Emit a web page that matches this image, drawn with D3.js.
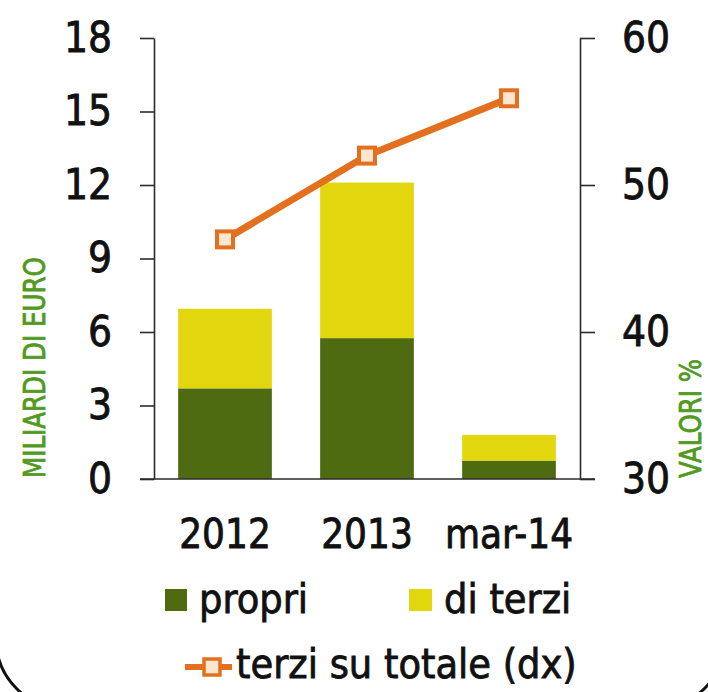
<!DOCTYPE html>
<html>
<head>
<meta charset="utf-8">
<script src="https://cdn.jsdelivr.net/npm/d3@7"></script>
<style>
  body { margin: 0; background: #fff; }
  svg text { font-family: "Liberation Sans Narrow", "DejaVu Sans Condensed", "Open Sans", sans-serif; }
</style>
</head>
<body>
<div id="chart"></div>
<script>
// data
var periods = [ "2012", "2013", "mar-14" ];
var propri = [ 3.7, 5.75, 0.75 ];
var diTerzi = [ 3.25, 6.35, 1.05 ];
var terziSuTotale = [ 46.3, 52.0, 55.9 ];
var leftTicks = [ 0, 3, 6, 9, 12, 15, 18 ];
var rightTicks = [ 30, 40, 50, 60 ];

var colors = {
  propri: "#4e6b12",
  terzi: "#e2d70f",
  line: "#e2701f",
  marker: "#fbe6cf",
  axisTitle: "#4f9a1f",
  axis: "#2b2b2b",
  text: "#111"
};

var width = 708, height = 692;
var x0 = 154, x1 = 580, yTop = 38, yBase = 479;

var svg = d3.select( "#chart" ).append( "svg" )
  .attr( "width", width )
  .attr( "height", height );

var x = d3.scaleBand()
  .domain( periods )
  .range( [ x0, x1 ] )
  .paddingInner( 0.34 )
  .paddingOuter( 0.17 );

var y = d3.scaleLinear().domain( [ 0, 18 ] ).range( [ yBase, yTop ] );
var yRight = d3.scaleLinear().domain( [ 30, 60 ] ).range( [ yBase, yTop ] );

// stacked bars
var rows = periods.map( function ( p, i ) {
  return { period: p, propri: propri[ i ], terzi: diTerzi[ i ] };
} );
var stack = d3.stack().keys( [ "propri", "terzi" ] )( rows );

svg.append( "g" )
  .selectAll( "g" )
  .data( stack )
  .enter().append( "g" )
  .attr( "fill", function ( d ) { return colors[ d.key ]; } )
  .selectAll( "rect" )
  .data( function ( d ) { return d; } )
  .enter().append( "rect" )
  .attr( "x", function ( d ) { return x( d.data.period ); } )
  .attr( "width", x.bandwidth() )
  .attr( "y", function ( d ) { return y( d[ 1 ] ); } )
  .attr( "height", function ( d ) { return y( d[ 0 ] ) - y( d[ 1 ] ); } );

// axes
var leftAxis = svg.append( "g" )
  .attr( "transform", "translate(" + x0 + ",0)" )
  .call( d3.axisLeft( y ).tickValues( leftTicks ).tickSize( 14 ).tickSizeOuter( 0 ).tickPadding( 28 ) );

var rightAxis = svg.append( "g" )
  .attr( "transform", "translate(" + x1 + ",0)" )
  .call( d3.axisRight( yRight ).tickValues( rightTicks ).tickSize( 15 ).tickSizeOuter( 0 ).tickPadding( 27 ) );

[ leftAxis, rightAxis ].forEach( function ( g ) {
  g.selectAll( "path, line" ).attr( "stroke", colors.axis ).attr( "stroke-width", 1.6 );
  g.selectAll( "text" )
    .attr( "fill", colors.text )
    .style( "font-size", "42px" );
} );

svg.append( "line" )
  .attr( "x1", x0 - 14 ).attr( "x2", x1 + 15 )
  .attr( "y1", yBase ).attr( "y2", yBase )
  .attr( "stroke", colors.axis ).attr( "stroke-width", 1.6 );

// category labels
svg.append( "g" )
  .selectAll( "text" )
  .data( periods )
  .enter().append( "text" )
  .attr( "x", function ( d ) { return x( d ) + x.bandwidth() / 2; } )
  .attr( "y", 548 )
  .attr( "text-anchor", "middle" )
  .attr( "fill", colors.text )
  .style( "font-size", "40px" )
  .text( function ( d ) { return d; } );

// line (right axis)
var line = d3.line()
  .x( function ( d, i ) { return x( periods[ i ] ) + x.bandwidth() / 2; } )
  .y( function ( d ) { return yRight( d ); } );

svg.append( "path" )
  .datum( terziSuTotale )
  .attr( "d", line )
  .attr( "fill", "none" )
  .attr( "stroke", colors.line )
  .attr( "stroke-width", 7 );

svg.append( "g" )
  .selectAll( "rect" )
  .data( terziSuTotale )
  .enter().append( "rect" )
  .attr( "x", function ( d, i ) { return x( periods[ i ] ) + x.bandwidth() / 2 - 8; } )
  .attr( "y", function ( d ) { return yRight( d ) - 8; } )
  .attr( "width", 16 )
  .attr( "height", 16 )
  .attr( "fill", colors.marker )
  .attr( "stroke", colors.line )
  .attr( "stroke-width", 4 );

// axis titles (narrowed along the text to match the condensed original)
svg.append( "text" )
  .attr( "transform", "translate(45,478) rotate(-90) scale(0.88,1)" )
  .attr( "fill", colors.axisTitle )
  .attr( "stroke", colors.axisTitle )
  .style( "font-size", "31px" )
  .text( "MILIARDI DI EURO" );

svg.append( "text" )
  .attr( "transform", "translate(701,478) rotate(-90) scale(0.88,1)" )
  .attr( "fill", colors.axisTitle )
  .attr( "stroke", colors.axisTitle )
  .style( "font-size", "31px" )
  .text( "VALORI %" );

// legend
var legend = svg.append( "g" );
legend.append( "rect" ).attr( "x", 165 ).attr( "y", 589 ).attr( "width", 22 ).attr( "height", 22 ).attr( "fill", colors.propri );
legend.append( "text" ).attr( "x", 199 ).attr( "y", 613 ).text( "propri" );
legend.append( "rect" ).attr( "x", 409 ).attr( "y", 589 ).attr( "width", 23 ).attr( "height", 22 ).attr( "fill", colors.terzi );
legend.append( "text" ).attr( "x", 444 ).attr( "y", 613 ).text( "di terzi" );
legend.append( "line" ).attr( "x1", 185 ).attr( "x2", 232 ).attr( "y1", 667 ).attr( "y2", 667 )
  .attr( "stroke", colors.line ).attr( "stroke-width", 6 );
legend.append( "rect" ).attr( "x", 204 ).attr( "y", 659 ).attr( "width", 16 ).attr( "height", 16 )
  .attr( "fill", colors.marker ).attr( "stroke", colors.line ).attr( "stroke-width", 3.5 );
legend.append( "text" ).attr( "x", 236 ).attr( "y", 678 ).text( "terzi su totale (dx)" );
legend.selectAll( "text" ).attr( "fill", colors.text ).style( "font-size", "41px" );

// heavier strokes to get closer to the medium weight of the original
svg.selectAll( "text" ).filter( function () { return !this.getAttribute( "stroke" ); } )
  .attr( "stroke", colors.text );
svg.selectAll( "text" ).attr( "stroke-width", 0.8 );

// rounded frame, only the bottom corners show
svg.append( "rect" )
  .attr( "x", -4 ).attr( "y", -300 )
  .attr( "width", 729 ).attr( "height", 1009 )
  .attr( "rx", 70 )
  .attr( "fill", "none" )
  .attr( "stroke", colors.text )
  .attr( "stroke-width", 3 );
</script>
</body>
</html>
